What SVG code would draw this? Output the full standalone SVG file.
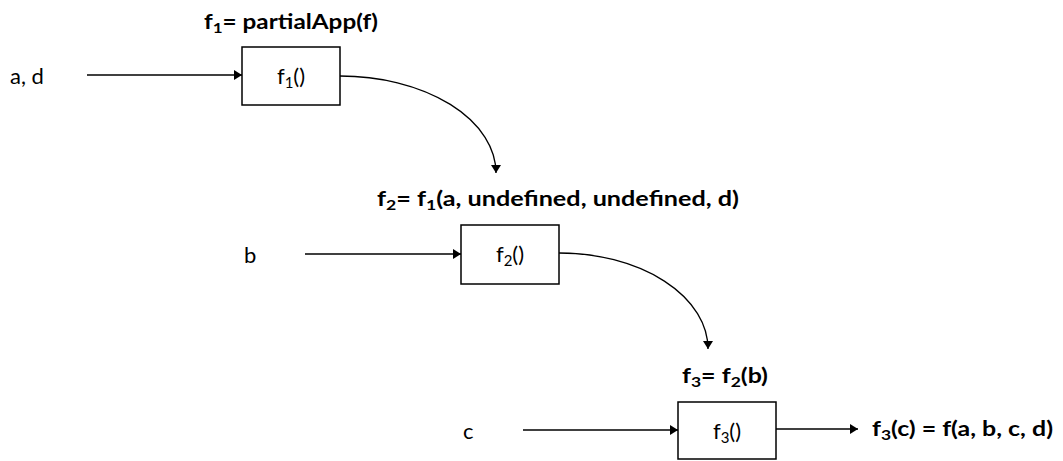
<svg xmlns="http://www.w3.org/2000/svg" width="1063" height="461" viewBox="0 0 1063 461">
  <style>
    .box { fill: #ffffff; stroke: #000000; stroke-width: 1.5; }
    .lbl { font-family: Lato, "Open Sans", "Liberation Sans", sans-serif; font-size: 22px; fill: #000000; }
    .ttl { font-family: Lato, "Open Sans", "Liberation Sans", sans-serif; font-size: 20px; font-weight: bold; fill: #000000; }
    .sub { font-size: 14px; }
    .lbl .sub { font-size: 15px; }
    .wire { fill: none; stroke: #000000; stroke-width: 1.3; marker-end: url(#head); }
  </style>
  <defs>
    <marker id="head" markerUnits="userSpaceOnUse" markerWidth="12" markerHeight="12" refX="8" refY="5" orient="auto">
      <path d="M0,0 L8,5 L0,10 z" fill="#000000"/>
    </marker>
  </defs>

  <!-- input labels -->
  <text class="lbl" x="10" y="84">a, d</text>
  <text class="lbl" x="244" y="263">b</text>
  <text class="lbl" x="463" y="439">c</text>

  <!-- stage 1 -->
  <g id="stage1">
    <text class="ttl" x="204" y="29" textLength="174" lengthAdjust="spacingAndGlyphs">f<tspan class="sub" dy="4">1</tspan><tspan dy="-4">= partialApp(f)</tspan></text>
    <rect class="box" x="242" y="47" width="98" height="58"/>
    <text class="lbl" x="291" y="84" text-anchor="middle">f<tspan class="sub" dy="4">1</tspan><tspan dy="-4">()</tspan></text>
  </g>

  <!-- stage 2 -->
  <g id="stage2">
    <text class="ttl" x="377" y="206" textLength="362" lengthAdjust="spacingAndGlyphs">f<tspan class="sub" dy="4">2</tspan><tspan dy="-4">= f</tspan><tspan class="sub" dy="4">1</tspan><tspan dy="-4">(a, undefined, undefined, d)</tspan></text>
    <rect class="box" x="461" y="225" width="98" height="59"/>
    <text class="lbl" x="510" y="262" text-anchor="middle">f<tspan class="sub" dy="4">2</tspan><tspan dy="-4">()</tspan></text>
  </g>

  <!-- stage 3 -->
  <g id="stage3">
    <text class="ttl" x="682" y="383" textLength="86" lengthAdjust="spacingAndGlyphs">f<tspan class="sub" dy="4">3</tspan><tspan dy="-4">= f</tspan><tspan class="sub" dy="4">2</tspan><tspan dy="-4">(b)</tspan></text>
    <rect class="box" x="678" y="402" width="98" height="57"/>
    <text class="lbl" x="727" y="439" text-anchor="middle">f<tspan class="sub" dy="4">3</tspan><tspan dy="-4">()</tspan></text>
  </g>

  <!-- result -->
  <g id="result">
    <text class="ttl" x="872" y="436" textLength="181" lengthAdjust="spacingAndGlyphs">f<tspan class="sub" dy="4">3</tspan><tspan dy="-4">(c) = f(a, b, c, d)</tspan></text>
  </g>

  <!-- connectors -->
  <g id="connectors">
    <path class="wire" d="M87,75 H242"/>
    <path class="wire" d="M305,254 H461"/>
    <path class="wire" d="M523,430 H678"/>
    <path class="wire" d="M776,429 H858"/>
    <path class="wire" d="M340,76 A156,97 0 0 1 496,173"/>
    <path class="wire" d="M559,253 A149,96 0 0 1 708,349"/>
  </g>
</svg>
